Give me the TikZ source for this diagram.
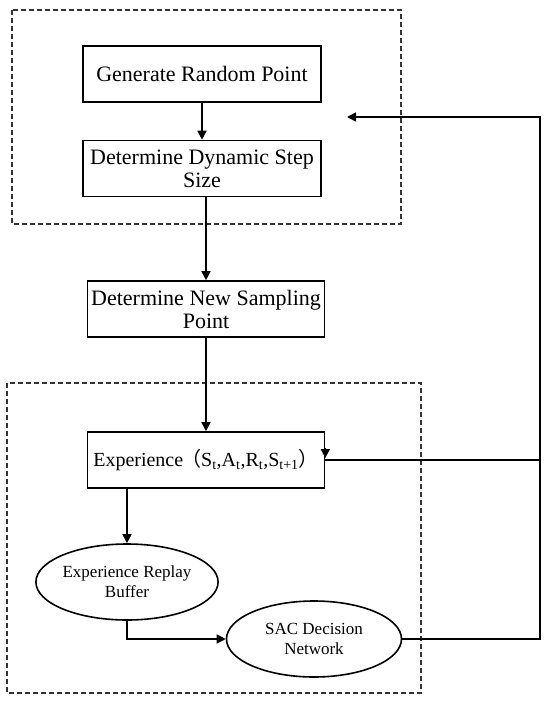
\documentclass[tikz,border=0pt]{standalone}
\usepackage{fontspec}
\setmainfont{Liberation Serif}
\newfontfamily\cjk{Noto Sans CJK SC}
\usepackage{tikz}
\usetikzlibrary{shapes.geometric,arrows.meta,calc}
\definecolor{dashgray}{HTML}{333333}

\begin{document}
\begin{tikzpicture}[x=1pt,y=-1pt,
    procbox/.style={draw,line width=1.6pt,minimum width=238pt,minimum height=56pt,
      align=center,inner sep=2pt,font=\fontsize{22}{23}\selectfont},
    memo/.style={draw,ellipse,line width=1.6pt,minimum width=176pt,minimum height=76pt,
      align=center,inner sep=0pt,font=\fontsize{17}{20}\selectfont},
    arr/.style={-{Triangle[length=9pt,width=9pt]},line width=1.6pt},
    group/.style={draw=dashgray,line width=1.1pt,dash pattern=on 5pt off 3pt}]
  \useasboundingbox (0,0) rectangle (550,702);
  % dashed groups
  \draw[group] (12,10) rectangle (401,224);
  \draw[group] (7,383) rectangle (421,693);
  % process steps
  \node[procbox] (gen) at (202,74) {Generate Random Point};
  \node[procbox] (det) at (202,168.5) {Determine Dynamic Step\\Size};
  \node[procbox,minimum width=237pt] (ns) at (206,309) {Determine New Sampling\\Point};
  \node[procbox,minimum width=237pt,font=\fontsize{20}{22}\selectfont] (exp) at (206,460)
    {Experience{\cjk\kern-2pt（}S\textsubscript{t},A\textsubscript{t},R\textsubscript{t},S\textsubscript{t+1}{\cjk ）}};
  \node[memo] (erb) at (127,582) {Experience Replay\\Buffer};
  \node[memo,minimum width=175pt] (sac) at (314,639) {SAC Decision\\Network};
  \coordinate (rt) at (540,639);
  \coordinate (fb) at (347,117);
  % connectors
  \draw[arr] (gen) -- (det);
  \draw[arr] (ns.north |- det.south) -- (ns.north);
  \draw[arr] (ns) -- (exp);
  \draw[arr] (erb.north |- exp.south) -- (erb.north);
  \draw[arr] (erb.south) |- (sac.west);
  \draw[arr] (sac.east) -- (rt) |- (fb);
  \draw[line width=1.6pt] (rt |- exp.east) -- (exp.east);
  \draw[arr] ([yshift=12pt]exp.east) -- ([yshift=2pt]exp.east);
\end{tikzpicture}
\end{document}
